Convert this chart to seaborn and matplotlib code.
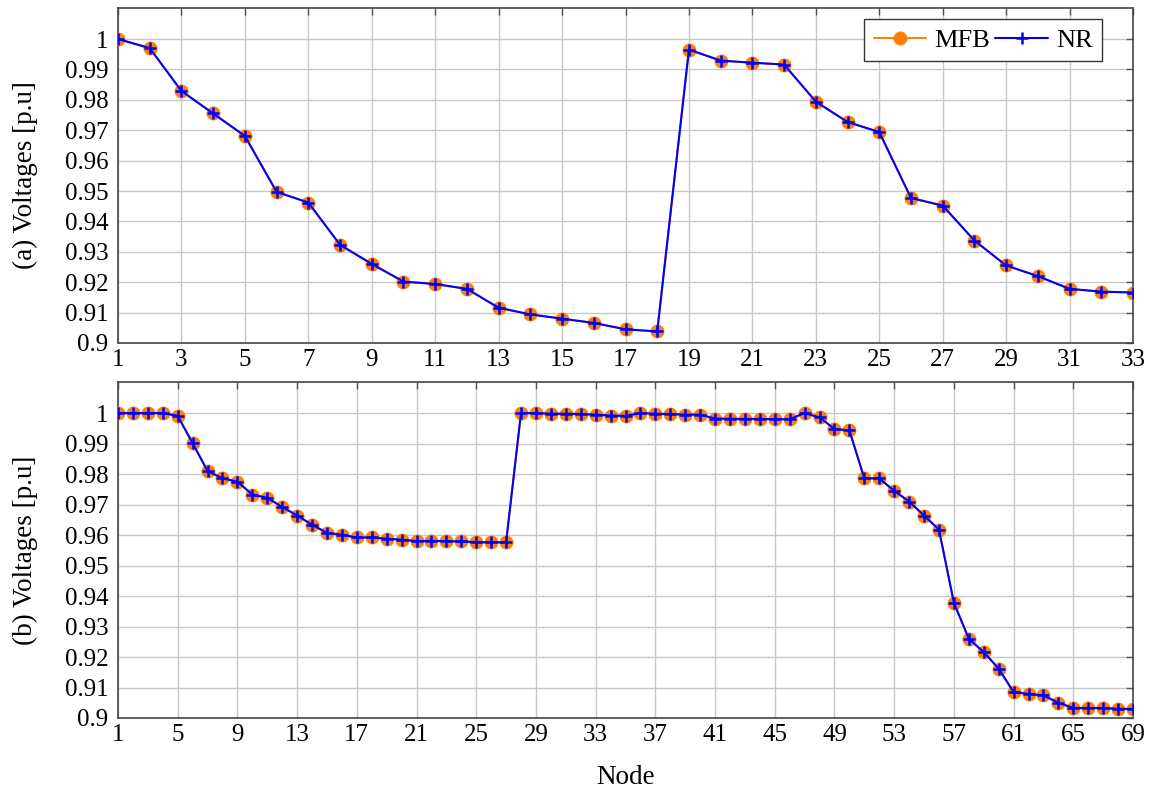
import numpy as np
import pandas as pd
import matplotlib
matplotlib.use("Agg")
import matplotlib.pyplot as plt
import seaborn as sns

# 33-node system voltages (p.u.)
nodes_33 = list(range(1, 34))
v33 = [1.0000, 0.9970, 0.9829, 0.9755, 0.9681, 0.9497, 0.9462, 0.9323, 0.9260,
       0.9202, 0.9194, 0.9178, 0.9116, 0.9094, 0.9080, 0.9066, 0.9045, 0.9038,
       0.9965, 0.9929, 0.9922, 0.9916, 0.9794, 0.9727, 0.9694, 0.9477, 0.9452,
       0.9337, 0.9255, 0.9220, 0.9178, 0.9169, 0.9166]

# 69-node system voltages (p.u.)
nodes_69 = list(range(1, 70))
v69 = [1.0000, 1.0000, 1.0000, 1.0000, 0.9991, 0.9901, 0.9810, 0.9786, 0.9775,
       0.9733, 0.9722, 0.9692, 0.9664, 0.9634, 0.9607, 0.9601, 0.9592, 0.9592,
       0.9588, 0.9585, 0.9580, 0.9581, 0.9580, 0.9579, 0.9577, 0.9576, 0.9576,
       1.0000, 1.0000, 0.9998, 0.9998, 0.9997, 0.9995, 0.9992, 0.9991, 1.0000,
       0.9998, 0.9997, 0.9995, 0.9995, 0.9982, 0.9981, 0.9981, 0.9981, 0.9980,
       0.9980, 1.0000, 0.9986, 0.9948, 0.9943, 0.9786, 0.9786, 0.9745, 0.9710,
       0.9664, 0.9618, 0.9378, 0.9260, 0.9216, 0.9162, 0.9085, 0.9079, 0.9074,
       0.9050, 0.9033, 0.9033, 0.9033, 0.9030, 0.9030]

# MFB and NR give the same result
mfb_33, nr_33 = v33, v33
mfb_69, nr_69 = v69, v69

orange = "#ff8000"
blue = "#0000ff"

sns.set_style("whitegrid")
plt.rcParams["font.family"] = ["Liberation Serif", "DejaVu Serif"]
plt.rcParams["text.color"] = "black"
plt.rcParams["axes.labelcolor"] = "black"

fig = plt.figure(figsize=(11.53, 7.91), dpi=100)
ax1 = fig.add_axes([118 / 1153, 1 - 343 / 791, 1015 / 1153, 335 / 791])
ax2 = fig.add_axes([118 / 1153, 1 - 718 / 791, 1015 / 1153, 336 / 791])


def draw(ax, nodes, mfb, nr, xticks, ylabel, legend):
    df = pd.DataFrame({"Node": nodes, "MFB": mfb, "NR": nr})
    sns.lineplot(data=df, x="Node", y="MFB", ax=ax, color=orange, lw=1.4,
                 marker="o", markersize=9.5, markeredgewidth=0.5,
                 markeredgecolor=orange, markerfacecolor=orange,
                 label="MFB", zorder=3)
    sns.lineplot(data=df, x="Node", y="NR", ax=ax, color=blue, lw=1.5,
                 marker="+", markersize=9, markeredgewidth=1.8,
                 markeredgecolor=blue, label="NR", zorder=4)
    ax.set_xlim(nodes[0], nodes[-1])
    ax.set_ylim(0.9, 1.0102)
    ax.set_xticks(xticks)
    yt = np.round(np.arange(0.90, 1.001, 0.01), 2)
    ax.set_yticks(yt)
    ax.set_yticklabels([f"{v:g}" for v in yt])
    ax.grid(True, color="#c8c8c8", lw=1.0)
    ax.tick_params(direction="in", top=True, right=True, length=5, width=1,
                   color="#555555", labelsize=18, labelcolor="black")
    ax.tick_params(axis="y", pad=7)
    ax.tick_params(axis="x", pad=4)
    for s in ax.spines.values():
        s.set_color("#444444")
        s.set_linewidth(1.2)
    ax.set_ylabel(ylabel, fontsize=19.5, labelpad=19, color="black")
    ax.set_xlabel("")
    if legend:
        leg = ax.legend(loc="upper right", ncol=2, fontsize=19, frameon=True,
                        fancybox=False, edgecolor="#333333", framealpha=1,
                        handlelength=2.0, handletextpad=0.3, columnspacing=0.2,
                        borderpad=0.35, borderaxespad=0,
                        bbox_to_anchor=(0.9695, 0.967))
        leg.get_frame().set_linewidth(1.0)
    else:
        ax.get_legend().remove()


draw(ax1, nodes_33, mfb_33, nr_33, list(range(1, 34, 2)), "(a) Voltages [p.u]", True)
draw(ax2, nodes_69, mfb_69, nr_69, list(range(1, 70, 4)), "(b) Voltages [p.u]", False)
ax2.set_xlabel("Node", fontsize=19.5, labelpad=14, color="black")

plt.savefig("out.png", dpi=100)
plt.close()
